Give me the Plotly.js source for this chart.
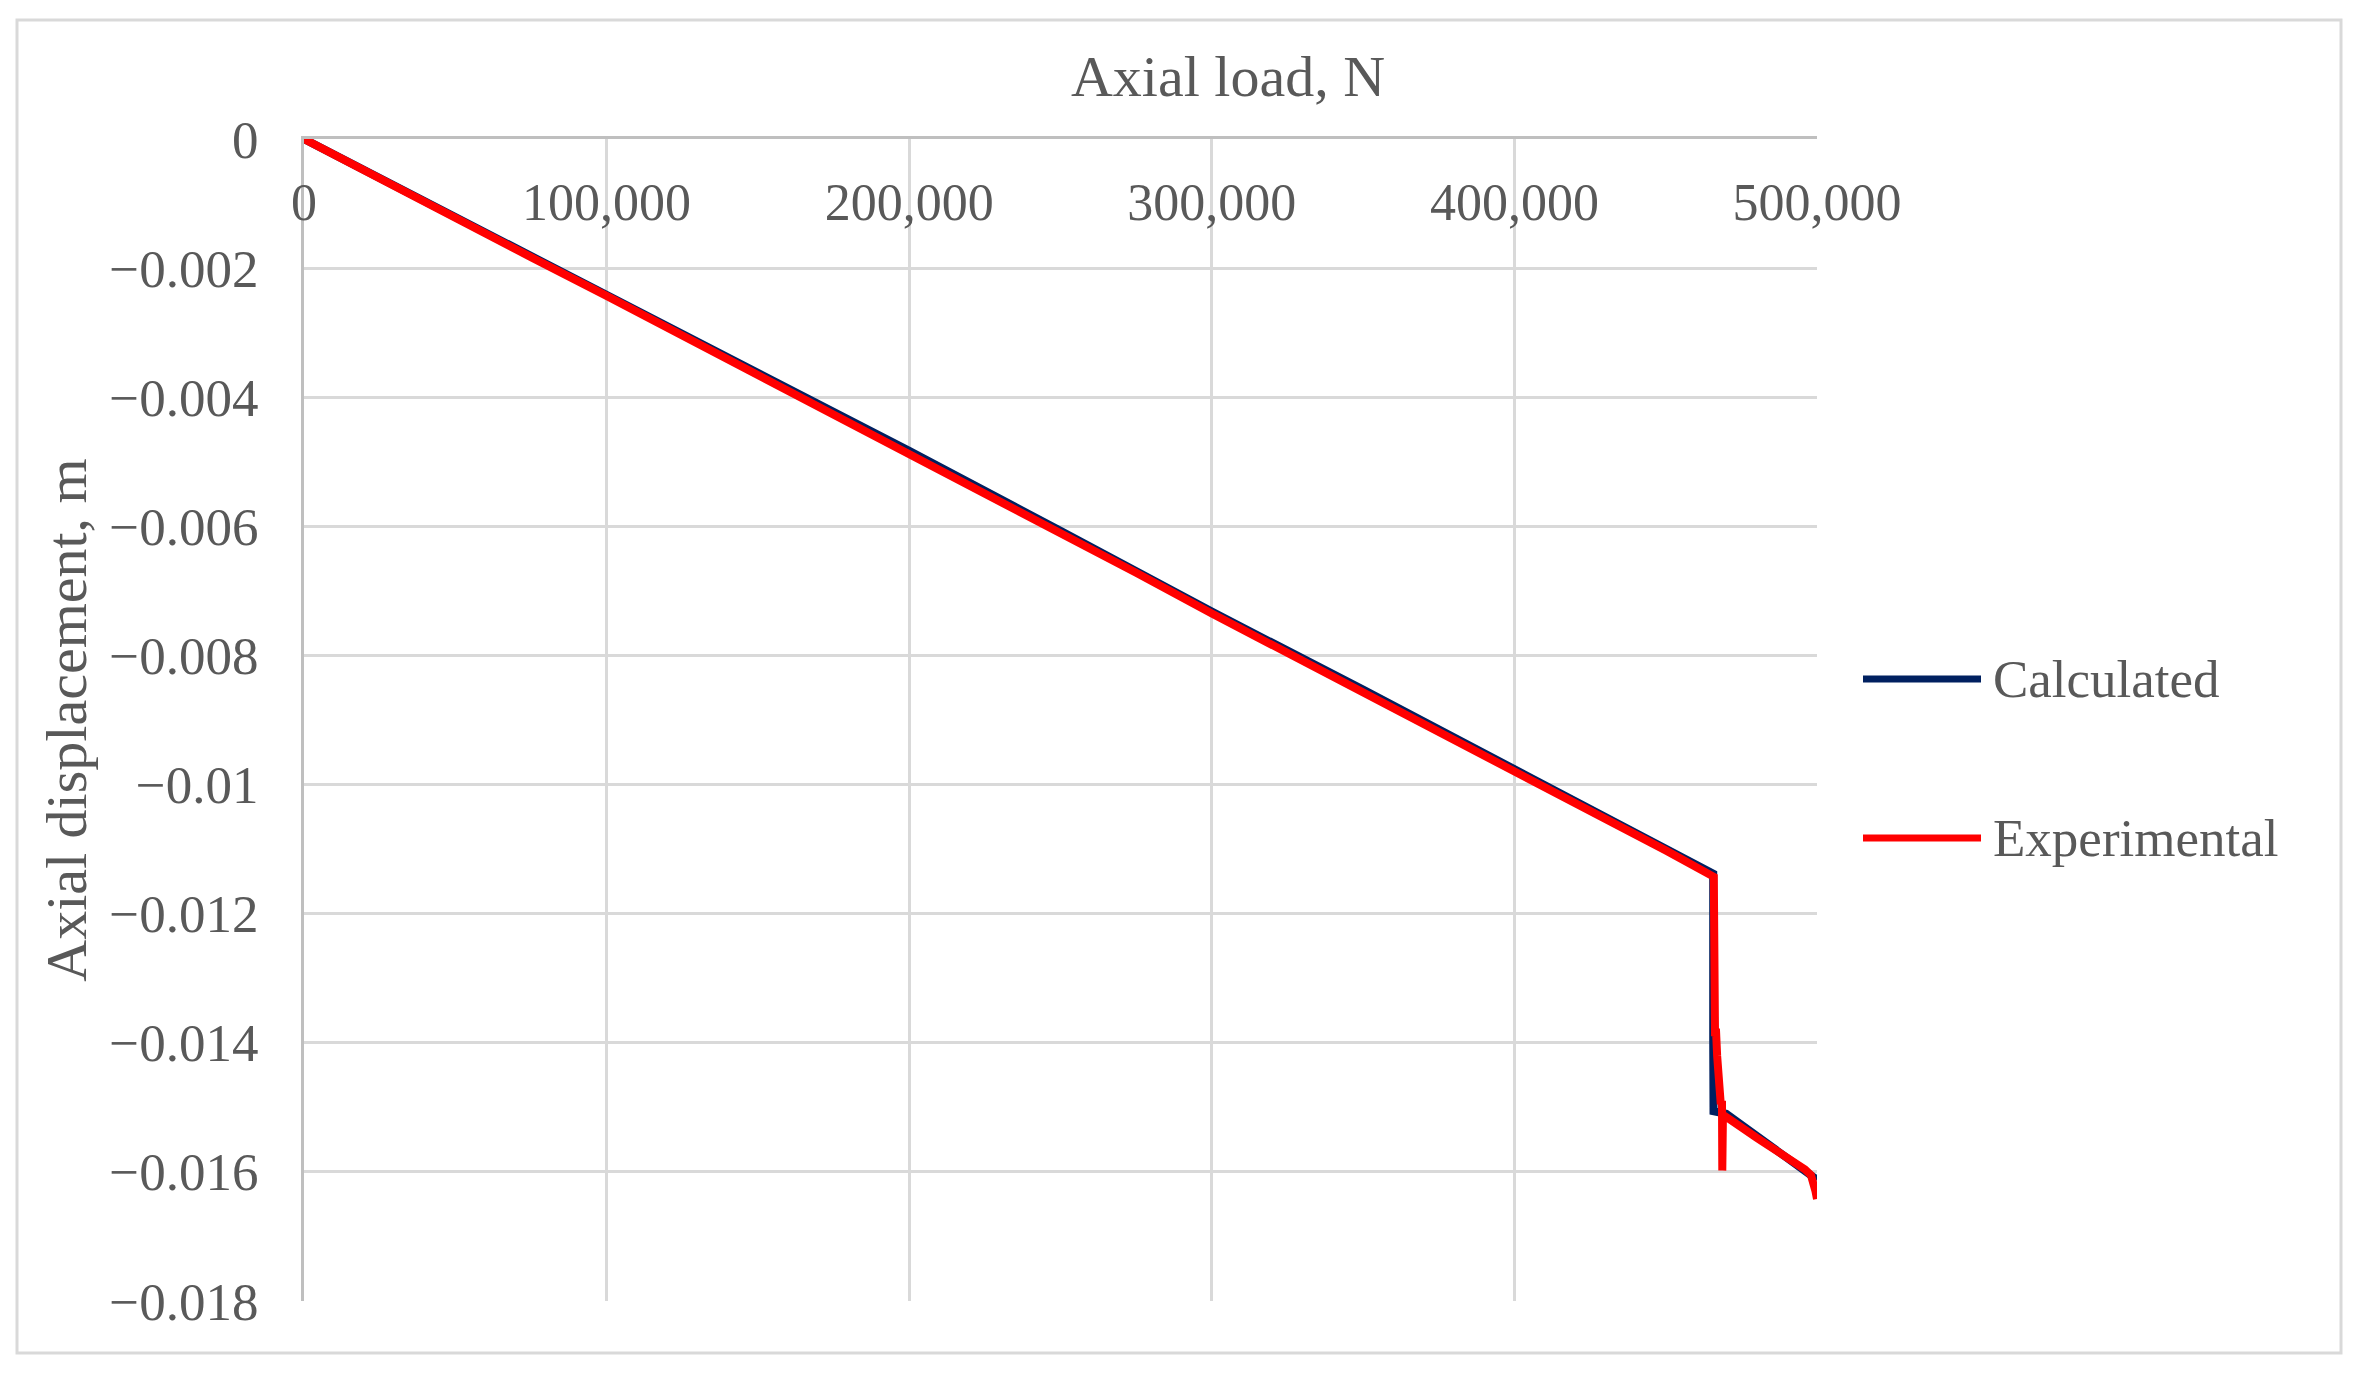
<!DOCTYPE html>
<html>
<head>
<meta charset="utf-8">
<script src="https://cdn.plot.ly/plotly-3.0.1.min.js"></script>
<style>
  body { margin: 0; background: #fff; }
</style>
</head>
<body>
<div id="myDiv" style="width:2360px;height:1386px"></div>
<script>
// values (load in N, displacement in m)
var calcLoad = [0, 50000, 100000, 150000, 200000, 250000, 300000, 350000, 400000, 450000, 465700,
  465700, 465800, 470000, 480000, 490000, 500000];
var calcDisp = [0, -0.00120, -0.00240, -0.00361, -0.00483, -0.00607, -0.00732, -0.00853, -0.00975, -0.01099, -0.01138,
  -0.01400, -0.01506, -0.01510, -0.01543, -0.01577, -0.01612];

var expLoad = [0, 25000, 50000, 75000, 100000, 125000, 150000, 175000, 200000, 225000, 250000,
  275000, 300000, 325000, 350000, 375000, 400000, 425000, 450000, 465900,
  466000, 466300, 466600, 467000, 467400, 467800, 468200, 468600, 468700, 468900,
  470000, 472000, 474000, 476000, 478000, 480000, 482000, 484000, 486000, 488000,
  490000, 492000, 494000, 496000, 498000, 499000, 499500, 500000];
var expDisp = [0, -0.00062, -0.00123, -0.00183, -0.00243, -0.00304, -0.00364, -0.00425, -0.00486, -0.00548, -0.00610,
  -0.00672, -0.00735, -0.00796, -0.00856, -0.00917, -0.00978, -0.01040, -0.01102, -0.01143,
  -0.01360, -0.01390, -0.01378, -0.01420, -0.01470, -0.01468, -0.01495, -0.01490, -0.01598, -0.01518,
  -0.01515, -0.01522, -0.01527, -0.01536, -0.01540, -0.01547, -0.01553, -0.01559, -0.01564, -0.01571,
  -0.01576, -0.01583, -0.01589, -0.01596, -0.01605, -0.01617, -0.01630, -0.01642];

var seriesNames = ['Calculated', 'Experimental'];
var seriesColors = ['#002060', '#ff0000'];

var xTickVals = [0, 100000, 200000, 300000, 400000, 500000];
var xTickText = ['0', '100,000', '200,000', '300,000', '400,000', '500,000'];
var yTickVals = [0, -0.002, -0.004, -0.006, -0.008, -0.01, -0.012, -0.014, -0.016, -0.018];
var yTickText = ['0', '\u22120.002', '\u22120.004', '\u22120.006', '\u22120.008', '\u22120.01',
  '\u22120.012', '\u22120.014', '\u22120.016', '\u22120.018'];

// plot area in pixels
var L = 304, R = 1817, T = 139, B = 1301;
function px(x) { return (x - L) / (R - L); }
function py(y) { return (B - y) / (B - T); }

var txt = '#595959';
var fontFam = '"Liberation Serif", "Times New Roman", serif';

var trace1 = {
  x: calcLoad, y: calcDisp, type: 'scatter', mode: 'lines',
  name: seriesNames[0], line: { color: seriesColors[0], width: 8 }
};
var trace2 = {
  x: expLoad, y: expDisp, type: 'scatter', mode: 'lines',
  name: seriesNames[1], line: { color: seriesColors[1], width: 8 }
};

// hand-built legend so the keys can be as long as in the original
var shapes = [{
  type: 'rect', xref: 'paper', yref: 'paper', layer: 'below',
  x0: px(17), x1: px(2341), y0: py(1353), y1: py(20),
  line: { color: '#d9d9d9', width: 3 }
}];
var annotations = [];
var legY = [679, 838];
for (var i = 0; i < 2; i++) {
  shapes.push({
    type: 'line', xref: 'paper', yref: 'paper',
    x0: px(1863), x1: px(1981), y0: py(legY[i]), y1: py(legY[i]),
    line: { color: seriesColors[i], width: 7 }
  });
  annotations.push({
    xref: 'paper', yref: 'paper', x: px(1991), y: py(legY[i]),
    xanchor: 'left', yanchor: 'middle', showarrow: false,
    text: seriesNames[i], font: { family: fontFam, size: 53, color: txt }
  });
}

var layout = {
  width: 2360, height: 1386,
  margin: { l: L, r: 2360 - R, t: T, b: 1386 - B },
  paper_bgcolor: '#fff', plot_bgcolor: '#fff',
  showlegend: false,
  font: { family: fontFam, color: txt, size: 52 },
  title: {
    text: 'Axial load, N', font: { family: fontFam, size: 58, color: txt },
    xref: 'paper', x: px(1228), xanchor: 'center',
    yref: 'container', y: 1 - 76 / 1386, yanchor: 'middle'
  },
  xaxis: {
    range: [0, 500000], side: 'top', ticklabelposition: 'inside',
    ticklabeloverflow: 'allow', ticklabelstandoff: 52,
    tickvals: xTickVals, ticktext: xTickText, ticks: '',
    showline: true, linecolor: '#bfbfbf', linewidth: 3,
    showgrid: true, gridcolor: '#d9d9d9', gridwidth: 3,
    zeroline: false, tickfont: { size: 52, color: txt }
  },
  yaxis: {
    range: [-0.018, 0], tickvals: yTickVals, ticktext: yTickText, ticks: '',
    ticklabelstandoff: 32,
    showline: true, linecolor: '#bfbfbf', linewidth: 3,
    showgrid: true, gridcolor: '#d9d9d9', gridwidth: 3,
    zeroline: false, tickfont: { size: 53, color: txt },
    title: { text: 'Axial displacement, m', standoff: 4, font: { size: 58, color: txt } }
  },
  shapes: shapes,
  annotations: annotations
};

Plotly.newPlot('myDiv', [trace1, trace2], layout, { displayModeBar: false });
</script>
</body>
</html>
